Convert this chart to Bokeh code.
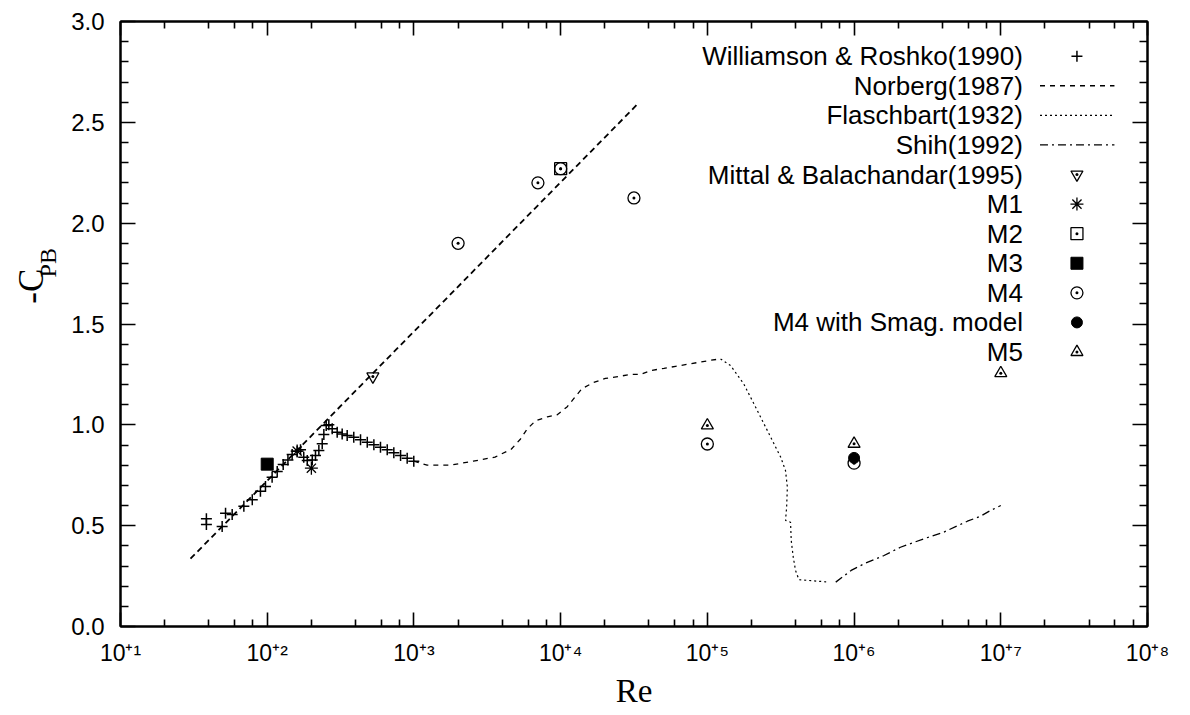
import math
from bokeh.plotting import figure
from bokeh.layouts import row
from bokeh.models import Range1d, FixedTicker, LogAxis, LinearAxis, CustomJSTickFormatter
from bokeh.core.properties import value
from bokeh.embed import file_html
from bokeh.resources import INLINE

# ---------------- data ----------------
wr_re = [38.5, 38.5, 49.3, 52.0, 57.7, 69.3, 79.1, 89.9, 97.3, 108, 117, 128.5, 138.4, 147.9,
         160, 168.7, 177.4, 187.5, 202.8, 213.3, 224.9, 237.1, 243.2, 252.4, 263, 277.3, 299.9,
         324.3, 350.8, 389, 432.5, 480.8, 533.3, 591.6, 657.7, 729.4, 810.8, 899.5, 997.7]
wr_cpb = [0.534, 0.506, 0.496, 0.562, 0.555, 0.596, 0.628, 0.671, 0.694, 0.740, 0.768, 0.803,
          0.826, 0.853, 0.869, 0.876, 0.839, 0.823, 0.826, 0.848, 0.873, 0.906, 0.952, 0.997,
          1.001, 0.980, 0.963, 0.955, 0.947, 0.939, 0.926, 0.914, 0.901, 0.889, 0.876, 0.861,
          0.848, 0.834, 0.820]

norberg_re = [1000, 1230, 1780, 2540, 3570, 4620, 5330, 5920, 6750, 8110, 9480, 11100, 12600,
              14000, 16800, 20200, 24900, 30000, 35100, 41500, 50600, 60700, 72900, 87500,
              105000, 123000]
norberg_cpb = [0.82, 0.80, 0.80, 0.82, 0.84, 0.88, 0.93, 0.98, 1.02, 1.04, 1.05, 1.09, 1.14,
               1.18, 1.21, 1.23, 1.24, 1.25, 1.25, 1.27, 1.28, 1.29, 1.30, 1.31, 1.32, 1.327]

flasch_re = [123000, 144000, 177000, 219000, 270000, 316000, 341000, 351000, 347000, 341000,
             369000, 373000, 385000, 399000, 421000, 561000, 673000]
flasch_cpb = [1.327, 1.294, 1.203, 1.071, 0.939, 0.840, 0.773, 0.691, 0.591, 0.526, 0.517,
              0.426, 0.344, 0.278, 0.232, 0.225, 0.220]

shih_re = [750000, 955000, 1170000, 1600000, 2070000, 2990000, 4090000, 5920000, 7280000,
           8510000, 10000000]
shih_cpb = [0.220, 0.278, 0.311, 0.352, 0.393, 0.435, 0.468, 0.522, 0.547, 0.575, 0.600]

fit_re = [30, 33800]
fit_cpb = [0.336, 2.594]

mittal_re = [525]
mittal_cpb = [1.24]
m1_re = [160, 200]
m1_cpb = [0.87, 0.785]
m2_re = [10000]
m2_cpb = [2.27]
m3_re = [100]
m3_cpb = [0.805]
m4_re = [2000, 7000, 10000, 31600, 100000, 1000000]
m4_cpb = [1.90, 2.20, 2.27, 2.125, 0.905, 0.81]
m4s_re = [1000000]
m4s_cpb = [0.836]
m5_re = [100000, 1000000, 10000000]
m5_cpb = [0.997, 0.906, 1.256]

legend_labels = ["Williamson & Roshko(1990)", "Norberg(1987)", "Flaschbart(1932)", "Shih(1992)",
                 "Mittal & Balachandar(1995)", "M1", "M2", "M3", "M4", "M4 with Smag. model", "M5"]

SUP = {"+": "\u207a", "1": "\u00b9", "2": "\u00b2", "3": "\u00b3", "4": "\u2074",
       "5": "\u2075", "6": "\u2076", "7": "\u2077", "8": "\u2078"}
xtick_exps = [1, 2, 3, 4, 5, 6, 7, 8]
xtick_values = [10.0 ** e for e in xtick_exps]
xtick_labels = ["10" + "".join(SUP[c] for c in "+%d" % e) for e in xtick_exps]
ytick_values = [0.0, 0.5, 1.0, 1.5, 2.0, 2.5, 3.0]
ytick_labels = ["0.0", "0.5", "1.0", "1.5", "2.0", "2.5", "3.0"]

x_label = "Re"
y_label_main = "-C"
y_label_sub = "PB"

# ---------------- styling ----------------
SANS = "Liberation Sans"
SERIF = "Liberation Serif"
K = "black"
X0, X1, Y0, Y1 = 10.0, 1e8, 0.0, 3.0
TOTAL_W, TOTAL_H = 1189, 714
LAB_W = 64

p = figure(width=TOTAL_W - LAB_W, height=TOTAL_H, x_axis_type="log",
           x_range=Range1d(X0, X1), y_range=Range1d(Y0, Y1),
           output_backend="svg", toolbar_location=None,
           min_border_left=56, min_border_right=42, min_border_top=21, min_border_bottom=88,
           background_fill_color="white", border_fill_color="white")
p.grid.visible = False
p.outline_line_color = K
p.outline_line_width = 2

x_minor = [m * 10.0 ** e for e in xtick_exps[:-1] for m in (2, 4, 6, 8)]
y_minor = [i / 10 for i in range(31) if i % 5]
xticker = FixedTicker(ticks=xtick_values, minor_ticks=x_minor)
yticker = FixedTicker(ticks=ytick_values, minor_ticks=y_minor)

lookup_code = """
const i = vals.findIndex(v => Math.abs(v - tick) <= 1e-9 * Math.max(1, Math.abs(v)));
return i >= 0 ? labs[i] : "";
"""
blank = CustomJSTickFormatter(code="return '';")


def style_axis(ax, maj, mnr):
    ax.axis_line_color = K
    ax.axis_line_width = 2
    ax.major_tick_in = maj
    ax.major_tick_out = 0
    ax.minor_tick_in = mnr
    ax.minor_tick_out = 0
    ax.major_tick_line_color = K
    ax.minor_tick_line_color = K
    ax.major_tick_line_width = 1.6
    ax.minor_tick_line_width = 1.6


xa = p.xaxis[0]
xa.ticker = xticker
xa.formatter = CustomJSTickFormatter(args=dict(vals=xtick_values, labs=xtick_labels), code=lookup_code)
style_axis(xa, 14, 7)
xa.major_label_text_font = SANS
xa.major_label_text_font_size = "23px"
xa.major_label_text_color = K
xa.major_label_standoff = 13
xa.axis_label = x_label
xa.axis_label_text_font = SERIF
xa.axis_label_text_font_size = "33px"
xa.axis_label_text_font_style = "normal"
xa.axis_label_text_color = K
xa.axis_label_standoff = 4

ya = p.yaxis[0]
ya.ticker = yticker
ya.formatter = CustomJSTickFormatter(args=dict(vals=ytick_values, labs=ytick_labels), code=lookup_code)
style_axis(ya, 15, 8)
ya.major_label_text_font = SANS
ya.major_label_text_font_size = "24px"
ya.major_label_text_color = K
ya.major_label_standoff = 16

top = LogAxis(ticker=xticker, formatter=blank, major_label_text_font_size="0px", major_label_standoff=0)
style_axis(top, 14, 7)
p.add_layout(top, "above")
right = LinearAxis(ticker=yticker, formatter=blank, major_label_text_font_size="0px", major_label_standoff=0)
style_axis(right, 15, 8)
p.add_layout(right, "right")

# ---------------- series ----------------
styles = {
    "fit": dict(line_dash="6 4", line_width=1.8),
    "norberg": dict(line_dash="5 5", line_width=1.3),
    "flasch": dict(line_dash="2 3", line_width=1.2),
    "shih": dict(line_dash="8 4 2 4", line_width=1.3),
}
p.line(fit_re, fit_cpb, color=K, **styles["fit"])
p.line(norberg_re, norberg_cpb, color=K, **styles["norberg"])
p.line(flasch_re, flasch_cpb, color=K, **styles["flasch"])
p.line(shih_re, shih_cpb, color=K, **styles["shih"])

ms = {
    "wr": dict(marker="cross", size=11, line_color=K, line_width=1.5),
    "mittal": dict(marker="inverted_triangle", size=12, line_color=K, fill_color=None, line_width=1.3),
    "mittal_dot": dict(marker="dot", size=12, line_color=K, fill_color=K),
    "m1": dict(marker="asterisk", size=13, line_color=K, line_width=1.3),
    "m2": dict(marker="square_dot", size=12, line_color=K, fill_color=None, line_width=1.3),
    "m3": dict(marker="square", size=12, line_color=K, fill_color=K),
    "m4": dict(marker="circle_dot", size=12, line_color=K, fill_color=None, line_width=1.3),
    "m4s": dict(marker="circle", size=11, line_color=K, fill_color=K),
    "m5": dict(marker="triangle_dot", size=12, line_color=K, fill_color=None, line_width=1.3),
}
series_pts = [("wr", wr_re, wr_cpb), ("mittal", mittal_re, mittal_cpb), ("mittal_dot", mittal_re, mittal_cpb),
              ("m1", m1_re, m1_cpb), ("m2", m2_re, m2_cpb), ("m3", m3_re, m3_cpb),
              ("m4", m4_re, m4_cpb), ("m4s", m4s_re, m4s_cpb), ("m5", m5_re, m5_cpb)]
for key, xs, ys in series_pts:
    p.scatter(xs, ys, **ms[key])

# ---------------- legend (gnuplot style: text right-aligned, sample to the right) ----------------
LEG_TOP = 0.9427
LEG_STEP = 0.0489
LEG_TEXT_X = 0.8787
LEG_LINE_X = (0.8953, 0.9678)
LEG_MARK_X = 0.9313


def fx(f):
    return 10 ** (math.log10(X0) + f * (math.log10(X1) - math.log10(X0)))


def fy(f):
    return Y0 + f * (Y1 - Y0)


row_y = [fy(LEG_TOP - i * LEG_STEP) for i in range(len(legend_labels))]
p.text(x=[fx(LEG_TEXT_X)] * len(legend_labels), y=row_y, text=legend_labels,
       text_align="right", text_baseline="middle", text_font=value(SANS),
       text_font_size=value("26px"), text_color=K)

legend_samples = [("marker", ["wr"]), ("line", "norberg"), ("line", "flasch"), ("line", "shih"),
                  ("marker", ["mittal", "mittal_dot"]), ("marker", ["m1"]), ("marker", ["m2"]),
                  ("marker", ["m3"]), ("marker", ["m4"]), ("marker", ["m4s"]), ("marker", ["m5"])]
for yv, (kind, key) in zip(row_y, legend_samples):
    if kind == "line":
        p.line([fx(LEG_LINE_X[0]), fx(LEG_LINE_X[1])], [yv, yv], color=K, **styles[key])
    else:
        for k in key:
            p.scatter([fx(LEG_MARK_X)], [yv], **ms[k])

# ---------------- y-axis title panel (rotated "-C" with subscript "PB") ----------------
lab = figure(width=LAB_W, height=TOTAL_H, x_range=Range1d(0, LAB_W), y_range=Range1d(0, TOTAL_H),
             output_backend="svg", toolbar_location=None, min_border=0,
             x_axis_location=None, y_axis_location=None,
             background_fill_color="white", border_fill_color="white")
lab.grid.visible = False
lab.outline_line_color = None
# anchors in panel pixels (baseline x, start y measured from the bottom)
lab.text(x=[31], y=[TOTAL_H - 333], text=[y_label_main], angle=math.pi / 2,
         text_align="left", text_baseline="alphabetic", text_font=value(SERIF),
         text_font_size=value("35px"), text_color=K)
lab.text(x=[47], y=[TOTAL_H - 302], text=[y_label_sub], angle=math.pi / 2,
         text_align="left", text_baseline="alphabetic", text_font=value(SERIF),
         text_font_size=value("24px"), text_color=K)

layout = row(lab, p)
open("out.html", "w").write(file_html(layout, INLINE))
